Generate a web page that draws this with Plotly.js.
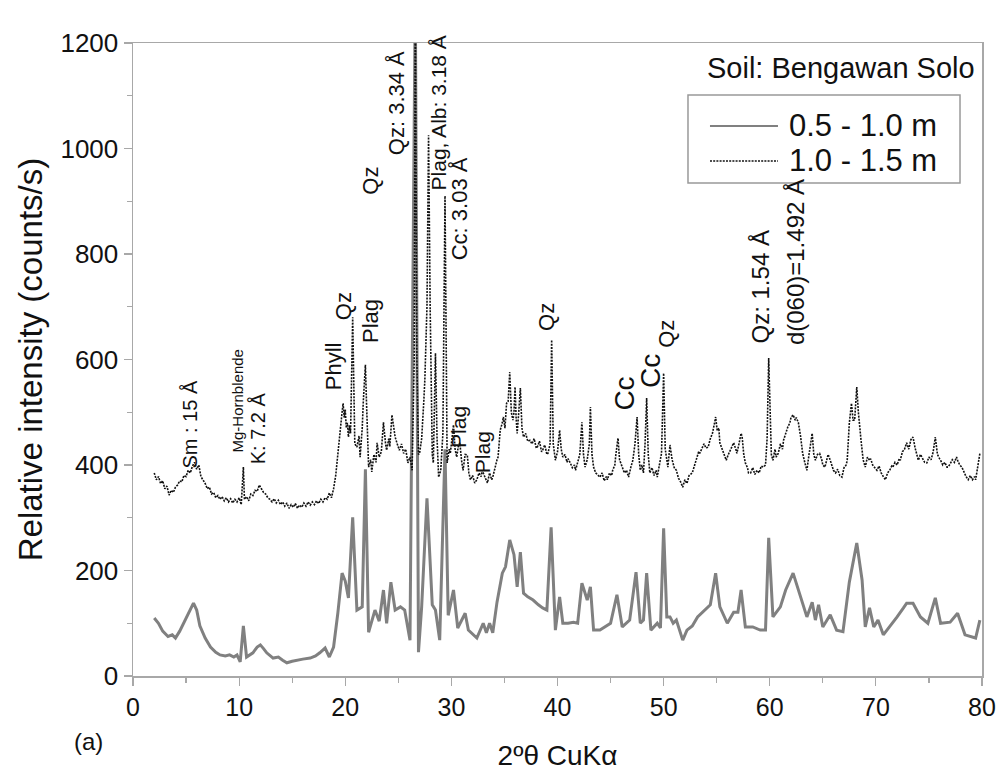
<!DOCTYPE html>
<html>
<head>
<meta charset="utf-8">
<script src="https://cdn.plot.ly/plotly-3.0.1.min.js"></script>
<style>html,body{margin:0;padding:0;background:#fff;}#chart{width:1004px;height:772px;}</style>
</head>
<body>
<div id="chart"></div>
<script>
// ---- Data: 2-theta (deg) and intensity (counts/s) ----
const seriesNames = ["0.5 - 1.0 m", "1.0 - 1.5 m"];

const lowX = [2.0,2.4,2.8,3.3,3.7,4.0,4.4,4.7,5.2,5.7,6.0,6.3,6.8,7.3,7.8,8.2,8.7,9.1,9.5,9.8,10.1,10.4,10.7,11.0,11.3,11.7,12.0,12.3,12.6,13.2,13.7,14.1,14.5,15.0,15.4,16.0,16.7,17.2,17.6,18.1,18.5,18.9,19.3,19.7,20.0,20.3,20.7,21.1,21.6,21.9,22.2,22.5,22.8,23.2,23.6,23.9,24.3,24.7,25.2,25.6,26.1,26.6,26.9,27.2,27.7,28.2,28.5,28.9,29.4,29.7,30.2,30.6,31.3,31.6,32.0,32.4,33.0,33.3,33.6,33.9,34.3,34.8,35.1,35.5,35.9,36.2,36.5,36.8,37.2,37.7,38.2,38.6,39.0,39.4,39.8,40.2,40.5,41.0,41.5,41.9,42.3,42.8,43.1,43.4,44.0,44.5,45.0,45.6,46.1,46.8,47.4,47.8,48.1,48.4,48.8,49.4,49.7,50.0,50.3,50.6,50.9,51.2,51.8,52.2,52.7,53.2,53.9,54.4,54.9,55.3,56.0,56.6,57.0,57.3,57.7,58.4,59.1,59.6,59.9,60.3,61.0,61.5,62.2,62.9,63.5,64.0,64.3,64.6,65.0,65.7,66.3,66.9,67.5,68.2,68.7,69.0,69.4,69.8,70.2,70.7,71.3,72.0,72.6,72.9,73.5,74.2,74.9,75.6,76.1,77.0,77.7,78.4,79.4,79.8];
const lowY = [110,100,85,75,78,72,85,97,115,138,125,95,72,55,45,40,38,40,36,40,27,95,36,40,44,55,59,52,44,34,36,30,25,28,30,32,34,38,44,53,36,55,119,195,180,148,301,125,131,392,83,105,125,104,163,100,178,125,131,125,68,1300,45,131,337,135,125,68,430,115,163,91,119,87,80,72,100,82,100,82,140,195,207,258,230,169,235,157,150,144,135,129,125,282,87,150,100,100,102,100,176,144,169,87,87,93,100,154,93,106,197,100,106,195,87,100,91,280,112,112,100,106,68,87,95,112,125,135,195,131,100,121,121,163,93,93,87,87,262,112,131,163,195,150,112,140,106,135,93,116,87,84,178,252,182,93,129,93,106,78,93,112,129,138,138,112,100,148,100,102,119,78,72,106];

const upX = [2.0,2.2,2.4,2.6,2.8,3.0,3.2,3.4,3.6,3.8,4.0,4.2,4.4,4.6,4.8,5.0,5.2,5.4,5.6,5.8,6.0,6.2,6.4,6.6,6.8,7.0,7.2,7.4,7.6,7.8,8.0,8.2,8.4,8.6,8.8,9.0,9.2,9.4,9.6,9.8,10.0,10.2,10.4,10.5,10.7,10.9,11.1,11.3,11.5,11.7,11.9,12.1,12.3,12.5,12.7,12.9,13.1,13.3,13.5,13.7,13.9,14.1,14.3,14.5,14.7,14.9,15.1,15.3,15.5,15.7,15.9,16.1,16.3,16.5,16.7,16.9,17.1,17.3,17.5,17.7,17.9,18.1,18.3,18.5,18.7,18.9,19.1,19.3,19.5,19.7,19.8,19.9,20.0,20.1,20.2,20.3,20.4,20.5,20.7,20.8,20.9,21.1,21.3,21.4,21.6,21.7,21.9,22.0,22.2,22.4,22.5,22.7,22.9,23.0,23.2,23.4,23.6,23.8,23.9,24.1,24.2,24.4,24.6,24.7,24.9,25.1,25.3,25.5,25.7,25.9,26.1,26.3,26.5,26.6,26.75,26.9,27.0,27.2,27.4,27.5,27.7,27.85,28.0,28.1,28.2,28.3,28.5,28.65,28.8,29.0,29.2,29.4,29.55,29.6,29.8,29.9,30.0,30.2,30.35,30.5,30.65,30.8,30.95,31.1,31.3,31.5,31.65,31.8,32.0,32.2,32.4,32.6,32.8,32.9,33.1,33.3,33.4,33.6,33.8,33.9,34.1,34.3,34.4,34.6,34.8,34.9,35.05,35.2,35.35,35.5,35.65,35.8,35.9,36.0,36.1,36.2,36.35,36.5,36.65,36.8,37.0,37.2,37.4,37.6,37.8,38.0,38.1,38.3,38.5,38.6,38.8,39.0,39.1,39.3,39.45,39.6,39.8,40.0,40.2,40.35,40.5,40.7,40.9,41.0,41.2,41.4,41.6,41.7,41.9,42.1,42.3,42.45,42.6,42.8,43.0,43.1,43.25,43.4,43.6,43.8,44.0,44.2,44.4,44.6,44.7,44.9,45.1,45.2,45.4,45.5,45.7,45.85,46.1,46.3,46.5,46.7,46.9,47.1,47.3,47.5,47.65,47.8,47.95,48.1,48.25,48.4,48.55,48.7,48.9,49.1,49.3,49.4,49.6,49.8,50.0,50.15,50.3,50.4,50.6,50.8,51.0,51.2,51.4,51.6,51.8,52.0,52.2,52.4,52.7,52.9,53.1,53.3,53.4,53.6,53.8,54.0,54.2,54.4,54.6,54.8,54.9,55.05,55.2,55.3,55.5,55.7,55.9,56.1,56.3,56.5,56.6,56.8,56.9,57.1,57.3,57.4,57.55,57.7,57.9,58.0,58.2,58.4,58.6,58.8,59.0,59.2,59.4,59.6,59.75,59.9,60.05,60.15,60.3,60.5,60.6,60.8,61.0,61.2,61.3,61.5,61.7,61.9,62.0,62.2,62.4,62.5,62.7,62.9,63.1,63.3,63.5,63.7,63.85,64.0,64.15,64.3,64.5,64.7,64.9,65.0,65.2,65.4,65.5,65.7,65.9,66.0,66.2,66.4,66.6,66.8,67.0,67.2,67.3,67.5,67.7,67.85,68.0,68.1,68.2,68.35,68.5,68.6,68.8,69.0,69.2,69.4,69.5,69.7,69.9,70.1,70.3,70.5,70.7,70.9,71.1,71.3,71.5,71.6,71.8,72.0,72.2,72.3,72.5,72.7,72.9,73.1,73.3,73.5,73.7,73.9,74.0,74.2,74.4,74.6,74.8,75.0,75.2,75.4,75.6,75.8,76.0,76.1,76.3,76.5,76.7,76.8,77.0,77.2,77.4,77.6,77.7,77.9,78.1,78.3,78.5,78.7,78.9,79.1,79.3,79.4,79.6,79.8];
const upY = [385,372,378,365,370,355,360,343,352,348,358,362,370,368,380,378,390,385,398,405,392,400,378,372,365,355,358,345,348,338,342,335,340,332,338,330,336,328,335,330,338,325,396,335,340,332,345,342,352,350,362,355,348,345,338,335,330,336,328,333,325,330,322,328,318,325,320,327,318,324,320,328,322,330,324,330,325,332,327,335,330,338,335,347,338,355,380,420,466,500,517,490,505,470,480,453,475,460,680,500,440,434,455,415,470,520,590,520,396,410,387,420,405,442,415,425,481,440,428,450,435,495,470,453,440,428,440,422,430,404,415,390,600,1300,600,420,422,450,520,561,700,1025,700,500,420,404,612,450,377,390,460,910,500,404,430,422,440,476,430,415,435,442,410,390,420,419,385,372,380,366,372,385,378,390,380,370,366,385,372,377,395,410,415,466,480,491,470,517,520,576,500,485,500,548,490,460,500,546,470,453,460,445,447,440,450,432,434,445,425,428,438,420,422,440,637,440,409,425,466,430,415,420,405,412,404,395,400,390,405,420,481,420,396,410,440,510,420,396,385,380,377,385,370,378,372,385,380,390,400,420,451,410,396,385,390,377,395,409,440,491,420,390,400,385,440,527,420,385,395,380,390,377,400,422,574,430,410,396,438,410,395,390,375,368,358,372,365,380,385,400,412,425,422,430,440,432,434,450,460,480,491,465,470,442,430,420,409,420,430,440,442,430,422,440,460,453,420,404,395,385,385,395,382,390,385,398,396,400,450,603,450,420,409,430,415,422,440,430,447,460,472,480,490,495,485,490,480,455,422,405,390,420,440,460,420,409,420,422,410,400,396,415,420,409,398,390,385,392,380,377,395,400,409,480,517,485,485,520,548,500,460,447,410,396,415,409,412,400,395,390,398,385,378,372,385,390,398,396,405,400,412,409,425,430,442,430,448,453,432,415,409,420,412,405,404,415,410,425,453,420,412,409,400,405,396,396,402,410,405,415,409,400,396,385,378,372,380,372,378,372,395,422];

// Peak labels
const peakLabels = ["Sm : 15 Å","Mg-Hornblende","K: 7.2 Å","Phyll","Qz","Plag","Qz","Qz: 3.34 Å","Plag, Alb: 3.18 Å","Cc: 3.03 Å","Plag","Plag","Qz","Cc","Cc","Qz","Qz: 1.54 Å","d(060)=1.492 Å"];
const peakLabelX = [5.4,9.8,11.8,18.85,19.8,22.4,22.3,24.9,28.75,30.8,30.6,32.9,38.9,46.3,48.7,50.2,59.1,62.5];
const peakLabelY = [390,419,398,538,671,627,908,984,916,785,428,381,650,500,542,618,626,624];
const peakLabelSize = [20,15,20,22,22,22,22,22,21,22,21,21,22,28,28,22,24,24];

const font = "Liberation Sans, Arial, sans-serif";
const ink = "#111111";
const solidColor = "#808080";

const traces = [
  {x: lowX, y: lowY, name: seriesNames[0], type: "scatter", mode: "lines",
   line: {color: solidColor, width: 3}, showlegend: false},
  {x: upX, y: upY, name: seriesNames[1], type: "scatter", mode: "lines",
   line: {color: ink, width: 1.6, dash: "2px,1.2px"}, showlegend: false}
];

const annotations = peakLabels.map((t, i) => ({
  x: peakLabelX[i], y: peakLabelY[i], xref: "x", yref: "y", text: t,
  textangle: -90, showarrow: false, xanchor: "center", yanchor: "bottom",
  font: {family: font, size: peakLabelSize[i], color: ink}
}));
annotations.push({x: 0.994, y: 0.96, xref: "paper", yref: "paper", text: "Soil: Bengawan Solo",
  showarrow: false, xanchor: "right", yanchor: "middle", font: {family: font, size: 29, color: ink}});
annotations.push({x: -0.053, y: -0.104, xref: "paper", yref: "paper", text: "(a)",
  showarrow: false, xanchor: "center", yanchor: "middle", font: {family: font, size: 24, color: ink}});

// Legend box drawn in paper coordinates
const legBox = {x0: 0.6537, x1: 0.9741, y0: 0.7788, y1: 0.9179};
const legRows = [0.8689, 0.8136];
const legLine = [0.6796, 0.7597];
const legTextX = 0.7715;
const shapes = [
  {type: "rect", xref: "paper", yref: "paper", x0: legBox.x0, x1: legBox.x1, y0: legBox.y0, y1: legBox.y1,
   line: {color: "#999", width: 1.5}, fillcolor: "rgba(0,0,0,0)"},
  {type: "line", xref: "paper", yref: "paper", x0: legLine[0], x1: legLine[1], y0: legRows[0], y1: legRows[0],
   line: {color: solidColor, width: 2}},
  {type: "line", xref: "paper", yref: "paper", x0: legLine[0], x1: legLine[1], y0: legRows[1], y1: legRows[1],
   line: {color: ink, width: 1.6, dash: "2px,1.2px"}}
];
seriesNames.forEach((n, i) => annotations.push({x: legTextX, y: legRows[i], xref: "paper", yref: "paper",
  text: n, showarrow: false, xanchor: "left", yanchor: "middle", borderpad: 0,
  font: {family: font, size: 31, color: ink}}));

const layout = {
  width: 1004, height: 772,
  margin: {l: 133, r: 22, t: 43, b: 96},
  paper_bgcolor: "#fff", plot_bgcolor: "#fff",
  showlegend: false,
  xaxis: {range: [0, 80], dtick: 10, tick0: 0, showgrid: false, zeroline: false,
    showline: true, mirror: true, linecolor: "#a8a8a8", linewidth: 1.5,
    ticks: "outside", ticklen: 8, tickcolor: "#a8a8a8", tickwidth: 1.2,
    minor: {dtick: 5, ticklen: 5, tickcolor: "#a8a8a8", ticks: "outside", showgrid: false},
    tickfont: {family: font, size: 25, color: ink},
    title: {text: "2ºθ CuKα", font: {family: font, size: 28, color: ink}, standoff: 26}},
  yaxis: {range: [0, 1200], dtick: 200, tick0: 0, showgrid: false, zeroline: false,
    showline: true, mirror: true, linecolor: "#a8a8a8", linewidth: 1.5,
    ticks: "outside", ticklen: 8, tickcolor: "#a8a8a8", tickwidth: 1.2,
    minor: {dtick: 100, ticklen: 5, tickcolor: "#a8a8a8", ticks: "outside", showgrid: false},
    tickfont: {family: font, size: 26, color: ink},
    title: {text: "Relative intensity (counts/s)", font: {family: font, size: 33, color: ink}, standoff: 8}},
  shapes: shapes,
  annotations: annotations
};

Plotly.newPlot("chart", traces, layout, {displayModeBar: false, staticPlot: true});
</script>
</body>
</html>
